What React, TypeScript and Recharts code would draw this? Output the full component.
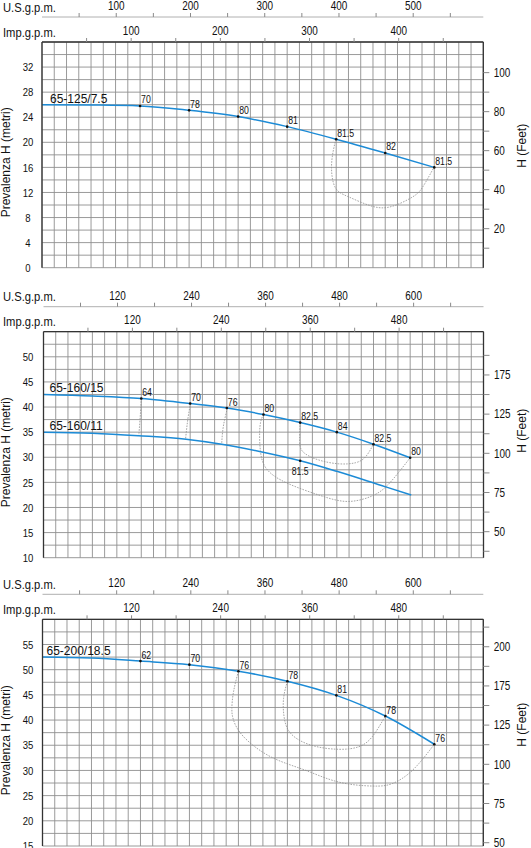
import React from 'react';
import { ComposedChart, Line, XAxis, YAxis, CartesianGrid } from 'recharts';

const SANS = "'Liberation Sans', Arial, Helvetica, sans-serif";
const SX = 0.83; // horizontal squeeze for the narrow DIN-like lettering
const BLUE = '#1c8bd6';
const BORDER = '#333333';
const GRID = '#8e8e8e';
const ISO = '#8f8f8f';
const INK = '#111111';

// ---------------- chart 1 : 65-125/7.5 ----------------
const c1Name = '65-125/7.5';
const c1Q = [0, 15, 30, 45, 60, 75, 90, 105, 120];
const c1H = [26.0, 25.95, 25.8, 25.1, 24.1, 22.5, 20.5, 18.3, 16.0];
const c1Eff = ['', '', '70', '78', '80', '81', '81.5', '82', '81.5'];
const c1IsoQ = [89.9, 88.6, 89.6, 93.8, 101, 107.2, 113.4, 116.5, 119.9];
const c1IsoH = [20.5, 16.6, 12.9, 11.3, 9.8, 9.8, 11.3, 12.9, 16.0];
const c1HLabels = [0, 4, 8, 12, 16, 20, 24, 28, 32];
const c1FeetTicks = [10, 20, 30, 40, 50, 60, 70, 80, 90, 100];
const c1FeetLabels = ['', '20', '', '40', '', '60', '', '80', '', '100'];
const c1UsTicks = [50, 100, 150, 200, 250, 300, 350, 400, 450, 500, 550];
const c1UsLabels = [100, 200, 300, 400, 500];
const c1ImpTicks = [50, 100, 150, 200, 250, 300, 350, 400, 450];
const c1ImpLabels = [100, 200, 300, 400];

// ---------------- chart 2 : 65-160/15 and 65-160/11 ----------------
const c2aName = '65-160/15';
const c2aQ = [0, 18, 36, 54, 67.5, 81, 94.5, 108, 121.5, 135];
const c2aH = [42.5, 42.2, 41.7, 40.7, 39.8, 38.5, 36.9, 35.0, 32.6, 29.9];
const c2aEff = ['', '', '64', '70', '76', '80', '82.5', '84', '82.5', '80'];
const c2bName = '65-160/11';
const c2bQ = [0, 18, 35, 52.5, 65.6, 80, 94.5, 108, 126, 135.4];
const c2bH = [35.0, 34.8, 34.3, 33.6, 32.6, 31.1, 29.3, 27.2, 24.1, 22.5];
const c2bEff = ['', '', '', '', '', '', '81.5', '', '', ''];
const c2Iso64Q = [36, 35.7, 35.1];
const c2Iso64H = [41.7, 38.75, 34.4];
const c2Iso70Q = [54.1, 53.1, 52.3];
const c2Iso70H = [40.7, 37.4, 33.6];
const c2Iso76Q = [67.7, 66.2, 65.6];
const c2Iso76H = [39.8, 36.1, 32.6];
const c2Iso80Q = [81, 79.7, 79.9, 82.4, 89.9, 102.4, 112.3, 121, 127.3, 135];
const c2Iso80H = [38.5, 36.1, 31.1, 27.5, 24.8, 22.3, 21.2, 22.3, 24.8, 29.9];
const c2Iso825Q = [94.5, 94.3, 95.5, 101.1, 108.6, 114.8, 118.6, 121.5];
const c2Iso825H = [36.9, 33.4, 31.1, 29.5, 28.7, 28.9, 30.1, 32.6];
const c2HLabels = [10, 15, 20, 25, 30, 35, 40, 45, 50];
const c2FeetTicks = [37.5, 50, 62.5, 75, 87.5, 100, 112.5, 125, 137.5, 150, 162.5];
const c2FeetLabels = ['', '50', '', '75', '', '100', '', '125', '', '175', ''];
const c2UsTicks = [60, 120, 180, 240, 300, 360, 420, 480, 540, 600, 660];
const c2UsLabels = [120, 240, 360, 480, 600];
const c2ImpTicks = [60, 120, 180, 240, 300, 360, 420, 480, 540];
const c2ImpLabels = [120, 240, 360, 480];

// ---------------- chart 3 : 65-200/18.5 ----------------
const c3Name = '65-200/18.5';
const c3Q = [0, 18, 36, 54, 72, 90, 108, 126, 144];
const c3H = [52.5, 52.3, 51.7, 51.0, 49.7, 47.7, 44.9, 40.8, 35.2];
const c3Eff = ['', '', '62', '70', '76', '78', '81', '78', '76'];
const c3Iso76Q = [72, 70.2, 69.6, 70.2, 73.9, 83.9, 96.3, 108.8, 121.2, 128.6, 136.1, 144];
const c3Iso76H = [49.7, 45.6, 42.3, 40.0, 36.7, 32.7, 30.1, 27.7, 26.9, 27.4, 30.1, 35.2];
const c3Iso78Q = [90, 88.6, 88.8, 91.3, 98.8, 108.8, 116.2, 121.2, 126];
const c3Iso78H = [47.7, 44.3, 40.6, 37.3, 35.0, 34.2, 34.7, 36.7, 40.8];
const c3HLabels = [15, 20, 25, 30, 35, 40, 45, 50, 55];
const c3FeetTicks = [50, 62.5, 75, 87.5, 100, 112.5, 125, 137.5, 150, 162.5, 175, 187.5];
const c3FeetLabels = ['50', '', '75', '', '100', '', '125', '', '175', '', '200', ''];
const c3UsTicks = c2UsTicks;
const c3UsLabels = c2UsLabels;
const c3ImpTicks = c2ImpTicks;
const c3ImpLabels = c2ImpLabels;

// ---------------- helpers ----------------
const range = (a: number, b: number, s: number) => {
  const out: number[] = [];
  for (let v = a; v <= b + 1e-9; v += s) out.push(Math.round(v * 1000) / 1000);
  return out;
};
const toPts = (q: number[], h: number[]) => q.map((x, i) => ({ q: x, h: h[i] }));

type Series = { name: string; q: number[]; h: number[]; eff: string[]; below?: boolean };
type Iso = { q: number[]; h: number[] };
type Cfg = {
  top: number; height: number; mBottom: number; leftW: number; rightW: number;
  usH: number; impH: number; nameDx: number; rightDy: number;
  qMax: number; qStep: number; hMin: number; hMax: number; hStep: number; hLabels: number[];
  feetDomain: [number, number]; feetTicks: number[]; feetLabels: string[];
  usMax: number; usTicks: number[]; usLabels: number[];
  impMax: number; impTicks: number[]; impLabels: number[];
  series: Series[]; isos: Iso[];
};

const NText = (p: { x: number; y: number; anchor: string; size: number; dy?: string; children: any }) => (
  <text transform={`translate(${p.x} ${p.y}) scale(${SX} 1)`} textAnchor={p.anchor as any}
    fontSize={p.size} fontFamily={SANS} fill={INK} dy={p.dy}>{p.children}</text>
);

const SideTitle = (p: any) => {
  const vb = p.viewBox || { x: 0, y: 0, width: 0, height: 0 };
  const cx = p.side === 'left' ? vb.x + 10 : vb.x + vb.width - 5;
  const cy = vb.y + vb.height / 2 + (p.dy || 0);
  return (
    <text x={cx} y={cy} transform={`rotate(-90 ${cx} ${cy})`} textAnchor="middle"
      fontSize={12} fontFamily={SANS} fill={INK}>{p.text}</text>
  );
};

const TopTitle = (p: any) => {
  const vb = p.viewBox || { x: 0, y: 0, width: 0, height: 0 };
  return <NText x={3} y={vb.y + vb.height - 5.5} anchor="start" size={13.5}>{p.text}</NText>;
};

const topTick = (labels: number[]) => (p: any) => {
  const v = p.payload?.value;
  if (!labels.includes(v)) return <g />;
  return <NText x={p.x} y={p.y} anchor="middle" size={12}>{String(v)}</NText>;
};
const leftTick = (labels: number[]) => (p: any) => {
  const v = p.payload?.value;
  if (!labels.includes(v)) return <g />;
  return <NText x={p.x} y={p.y} anchor="middle" size={11.5} dy="0.36em">{String(v)}</NText>;
};
const rightTick = (ticks: number[], labels: string[]) => (p: any) => {
  const lbl = labels[ticks.indexOf(p.payload?.value)];
  if (!lbl) return <g />;
  return <NText x={p.x} y={p.y} anchor="start" size={12} dy="0.36em">{lbl}</NText>;
};
const noTick = () => <g />;

const makeDot = (s: Series, nameDx: number) => (p: any) => {
  const { cx, cy, index } = p;
  const key = `dot-${s.name}-${index}`;
  if (cx == null || cy == null) return <g key={key} />;
  const lbl = s.eff[index];
  return (
    <g key={key}>
      {index === 0 ? (
        <text x={cx + nameDx} y={cy - 2} fontSize={12} fontFamily={SANS} fill={INK}>{s.name}</text>
      ) : null}
      {lbl ? <circle cx={cx} cy={cy} r={1.3} fill={INK} /> : null}
      {lbl ? (
        <NText x={s.below ? cx : cx + 1} y={s.below ? cy + 14 : cy - 2.5}
          anchor={s.below ? 'middle' : 'start'} size={10.5}>{lbl}</NText>
      ) : null}
    </g>
  );
};

function PumpChart({ cfg }: { cfg: Cfg }) {
  const qTicks = range(0, cfg.qMax, cfg.qStep);
  const hTicks = range(cfg.hMin, cfg.hMax, cfg.hStep);
  return (
    <div style={{ position: 'absolute', left: 0, top: cfg.top }}>
      <ComposedChart width={531} height={cfg.height} margin={{ top: 0, right: 0, bottom: cfg.mBottom, left: 0 }}>
        <CartesianGrid xAxisId="q" yAxisId="m" stroke={GRID} strokeWidth={0.9} />
        {cfg.isos.map((iso, i) => (
          <Line key={`iso-${i}`} xAxisId="q" yAxisId="m" data={toPts(iso.q, iso.h)} dataKey="h"
            type="natural" stroke={ISO} strokeWidth={0.8} strokeDasharray="1.6 1.2"
            dot={false} activeDot={false} isAnimationActive={false} />
        ))}
        {cfg.series.map((s) => (
          <Line key={`s-${s.name}`} xAxisId="q" yAxisId="m" data={toPts(s.q, s.h)} dataKey="h"
            type="monotone" stroke={BLUE} strokeWidth={1.5}
            dot={makeDot(s, cfg.nameDx)} activeDot={false} isAnimationActive={false} />
        ))}
        <XAxis xAxisId="q" dataKey="q" type="number" domain={[0, cfg.qMax]} ticks={qTicks} interval={0}
          allowDataOverflow height={0} tick={noTick} tickLine={false}
          axisLine={{ stroke: BORDER, strokeWidth: 1.3 }} />
        <XAxis xAxisId="imp" dataKey="q" orientation="top" type="number" domain={[0, cfg.impMax]} ticks={cfg.impTicks}
          interval={0} allowDataOverflow height={cfg.impH} tickSize={4} tickMargin={3.5}
          tickLine={{ stroke: '#8a8a8a' }} axisLine={{ stroke: BORDER, strokeWidth: 1.3 }}
          tick={topTick(cfg.impLabels)} label={<TopTitle text="Imp.g.p.m." />} />
        <XAxis xAxisId="us" dataKey="q" orientation="top" type="number" domain={[0, cfg.usMax]} ticks={cfg.usTicks}
          interval={0} allowDataOverflow height={cfg.usH} tickSize={4} tickMargin={3}
          tickLine={{ stroke: '#8a8a8a' }} axisLine={{ stroke: '#b0b0b0', strokeWidth: 1 }}
          tick={topTick(cfg.usLabels)} label={<TopTitle text="U.S.g.p.m." />} />
        <YAxis yAxisId="m" orientation="left" dataKey="h" type="number" domain={[cfg.hMin, cfg.hMax]}
          ticks={hTicks} interval={0} allowDataOverflow width={cfg.leftW} tickLine={false} tickSize={0}
          tickMargin={cfg.leftW - 28} axisLine={{ stroke: BORDER, strokeWidth: 1.3 }}
          tick={leftTick(cfg.hLabels)}
          label={<SideTitle side="left" text="Prevalenza H (metri)" dy={7.5} />} />
        <YAxis yAxisId="ft" dataKey="h" orientation="right" type="number" domain={cfg.feetDomain} ticks={cfg.feetTicks}
          interval={0} allowDataOverflow width={cfg.rightW} tickSize={6} tickMargin={4.5}
          tickLine={{ stroke: '#8a8a8a' }} axisLine={{ stroke: BORDER, strokeWidth: 1.3 }}
          tick={rightTick(cfg.feetTicks, cfg.feetLabels)}
          label={<SideTitle side="right" text="H (Feet)" dy={cfg.rightDy} />} />
      </ComposedChart>
    </div>
  );
}

const chart1: Cfg = {
  top: 0, height: 275, mBottom: 7.3, leftW: 42, rightW: 47.7, usH: 17, impH: 25, nameDx: 8, rightDy: -9,
  qMax: 135, qStep: 3.75, hMin: 0, hMax: 36, hStep: 2, hLabels: c1HLabels,
  feetDomain: [0, 115.7], feetTicks: c1FeetTicks, feetLabels: c1FeetLabels,
  usMax: 594.4, usTicks: c1UsTicks, usLabels: c1UsLabels,
  impMax: 494.9, impTicks: c1ImpTicks, impLabels: c1ImpLabels,
  series: [{ name: c1Name, q: c1Q, h: c1H, eff: c1Eff }],
  isos: [{ q: c1IsoQ, h: c1IsoH }],
};

const chart2: Cfg = {
  top: 285, height: 280, mBottom: 7.3, leftW: 43.5, rightW: 47.5, usH: 21.7, impH: 25, nameDx: 6, rightDy: -14,
  qMax: 162, qStep: 4.5, hMin: 10, hMax: 55, hStep: 2.5, hLabels: c2HLabels,
  feetDomain: [33.4, 177.6], feetTicks: c2FeetTicks, feetLabels: c2FeetLabels,
  usMax: 713.3, usTicks: c2UsTicks, usLabels: c2UsLabels,
  impMax: 593.9, impTicks: c2ImpTicks, impLabels: c2ImpLabels,
  series: [
    { name: c2aName, q: c2aQ, h: c2aH, eff: c2aEff },
    { name: c2bName, q: c2bQ, h: c2bH, eff: c2bEff, below: true },
  ],
  isos: [
    { q: c2Iso64Q, h: c2Iso64H }, { q: c2Iso70Q, h: c2Iso70H }, { q: c2Iso76Q, h: c2Iso76H },
    { q: c2Iso80Q, h: c2Iso80H }, { q: c2Iso825Q, h: c2Iso825H },
  ],
};

const chart3: Cfg = {
  top: 568, height: 280, mBottom: 2, leftW: 42.5, rightW: 47.7, usH: 26.3, impH: 25, nameDx: 4, rightDy: -8,
  qMax: 162, qStep: 4.5, hMin: 15, hMax: 60, hStep: 2.5, hLabels: c3HLabels,
  feetDomain: [47.9, 192.5], feetTicks: c3FeetTicks, feetLabels: c3FeetLabels,
  usMax: 713.3, usTicks: c3UsTicks, usLabels: c3UsLabels,
  impMax: 593.9, impTicks: c3ImpTicks, impLabels: c3ImpLabels,
  series: [{ name: c3Name, q: c3Q, h: c3H, eff: c3Eff }],
  isos: [{ q: c3Iso76Q, h: c3Iso76H }, { q: c3Iso78Q, h: c3Iso78H }],
};

export default function App() {
  return (
    <div style={{ position: 'absolute', left: 0, top: 0, width: 531, height: 848, background: '#fff', overflow: 'hidden' }}>
      <PumpChart cfg={chart1} />
      <PumpChart cfg={chart2} />
      <PumpChart cfg={chart3} />
    </div>
  );
}
